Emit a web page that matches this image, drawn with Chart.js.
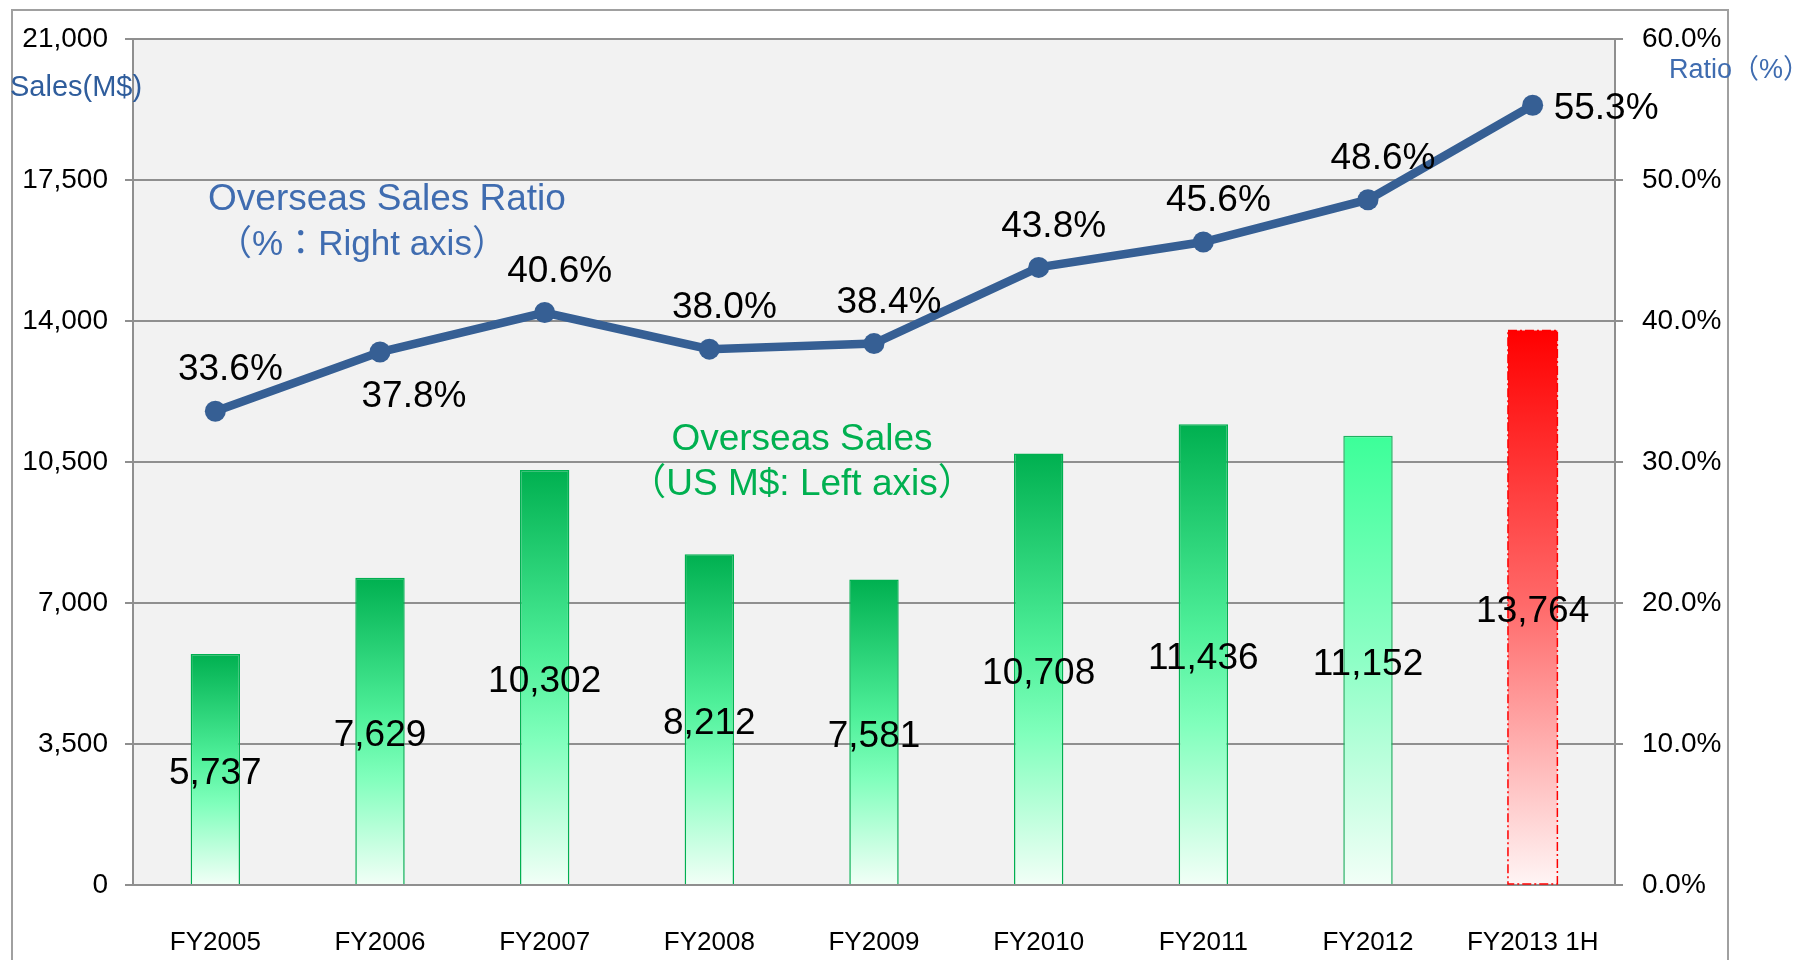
<!DOCTYPE html>
<html lang="en">
<head>
  <meta charset="UTF-8" />
  <title>Overseas Sales and Overseas Sales Ratio</title>
  <script src="https://cdn.jsdelivr.net/npm/chart.js"></script>
  <style>
    html, body { margin: 0; padding: 0; background: #fff; }
    #wrap { width: 1796px; height: 960px; }
  </style>
</head>
<body>
  <div id="wrap"><canvas id="salesChart" width="1796" height="960"></canvas></div>

  <script>
    // data
    const years = ['FY2005', 'FY2006', 'FY2007', 'FY2008', 'FY2009', 'FY2010', 'FY2011', 'FY2012', 'FY2013 1H'];
    const overseasSales = [5737, 7629, 10302, 8212, 7581, 10708, 11436, 11152, 13764];
    const overseasRatio = [33.6, 37.8, 40.6, 38.0, 38.4, 43.8, 45.6, 48.6, 55.3];
    const salesTicks = [0, 3500, 7000, 10500, 14000, 17500, 21000];
    const ratioTicks = [0, 10, 20, 30, 40, 50, 60];

    // which fill each bar uses, and where each ratio label sits
    const barKind = ['green', 'green', 'green', 'green', 'green', 'green', 'green', 'mint', 'red'];
    const ratioLabelSide = ['above', 'below', 'above', 'above', 'above', 'above', 'above', 'above', 'right'];

    const FONT = "'Liberation Sans', Arial, 'Noto Sans CJK JP', sans-serif";
    const GRID = '#8f8f8f';
    const LINE_BLUE = '#365f94';
    const TEXT_BLUE = '#3f6cb0';

    const gradientStops = {
      green: [[0, '#00b050'], [0.45, '#4ff09a'], [0.65, '#80ffbc'], [1, '#f2fff7']],
      mint:  [[0, '#3cff99'], [0.5, '#8effc6'], [1, '#f2fff7']],
      red:   [[0, '#ff0000'], [0.5, '#ff6b6b'], [1, '#fff5f5']]
    };

    function barFill(ctx) {
      const chart = ctx.chart;
      const kind = barKind[ctx.dataIndex] || 'green';
      if (!chart.chartArea || ctx.raw == null) return gradientStops[kind][0][1];
      const y = chart.scales.y;
      const top = y.getPixelForValue(ctx.raw);
      const bottom = y.getPixelForValue(0);
      const g = chart.ctx.createLinearGradient(0, top, 0, bottom);
      gradientStops[kind].forEach(s => g.addColorStop(s[0], s[1]));
      return g;
    }

    const chartDecor = {
      id: 'chartDecor',
      beforeDraw(chart) {
        const { ctx, chartArea: a } = chart;
        ctx.save();
        ctx.fillStyle = '#f2f2f2';
        ctx.fillRect(a.left, a.top, a.right - a.left, a.bottom - a.top);
        // outer frame
        ctx.strokeStyle = '#a0a0a0';
        ctx.lineWidth = 2;
        ctx.strokeRect(12, 10, 1716, 1000);
        ctx.restore();
      },
      afterDatasetsDraw(chart) {
        const ctx = chart.ctx;
        ctx.save();

        // dash-dot outline for the half-year bar
        const bars = chart.getDatasetMeta(1).data;
        bars.forEach((bar, i) => {
          if (barKind[i] !== 'red') return;
          ctx.strokeStyle = '#ff0000';
          ctx.lineWidth = 1.5;
          ctx.setLineDash([9, 3, 2, 3]);
          ctx.strokeRect(bar.x - bar.width / 2, bar.y, bar.width, bar.base - bar.y);
          ctx.setLineDash([]);
        });

        // bar value labels, centred in the bar
        ctx.fillStyle = '#000';
        ctx.font = '37px ' + FONT;
        ctx.textAlign = 'center';
        ctx.textBaseline = 'middle';
        bars.forEach((bar, i) => {
          ctx.fillText(overseasSales[i].toLocaleString('en-US'), bar.x, (bar.y + bar.base) / 2 + 5);
        });

        // ratio labels
        const pts = chart.getDatasetMeta(0).data;
        pts.forEach((p, i) => {
          const txt = overseasRatio[i].toFixed(1) + '%';
          const side = ratioLabelSide[i];
          if (side === 'right') {
            ctx.textAlign = 'left';
            ctx.fillText(txt, p.x + 21, p.y + 4);
          } else if (side === 'below') {
            ctx.textAlign = 'center';
            ctx.fillText(txt, p.x + 34, p.y + 45);
          } else {
            ctx.textAlign = 'center';
            ctx.fillText(txt, p.x + 15, p.y - 41);
          }
        });
        ctx.restore();
      },
      afterDraw(chart) {
        const ctx = chart.ctx;
        ctx.save();
        ctx.textBaseline = 'middle';

        ctx.fillStyle = '#2f5d9c';
        ctx.font = '29px ' + FONT;
        ctx.textAlign = 'left';
        ctx.fillText('Sales(M$)', 10, 88);

        ctx.fillStyle = TEXT_BLUE;
        ctx.font = '27px ' + FONT;
        ctx.fillText('Ratio（%）', 1669, 71);

        ctx.textAlign = 'center';
        ctx.font = '37px ' + FONT;
        ctx.fillText('Overseas Sales Ratio', 387, 200);
        ctx.font = '35px ' + FONT;
        ctx.fillText('（%：Right axis）', 362, 245);

        ctx.fillStyle = '#00b050';
        ctx.font = '37px ' + FONT;
        ctx.fillText('Overseas Sales', 802, 440);
        ctx.fillText('（US M$: Left axis）', 802, 485);
        ctx.restore();
      }
    };

    new Chart(document.getElementById('salesChart'), {
      data: {
        labels: years,
        datasets: [
          {
            type: 'line',
            label: 'Overseas Sales Ratio',
            data: overseasRatio,
            yAxisID: 'y1',
            borderColor: LINE_BLUE,
            backgroundColor: LINE_BLUE,
            borderWidth: 8.5,
            pointRadius: 10.5,
            pointBorderWidth: 0,
            pointBackgroundColor: LINE_BLUE,
            tension: 0,
            order: 0
          },
          {
            type: 'bar',
            label: 'Overseas Sales',
            data: overseasSales,
            yAxisID: 'y',
            backgroundColor: barFill,
            borderColor: barKind.map(k => k === 'red' ? 'rgba(0,0,0,0)' : (k === 'mint' ? '#1fb060' : '#00b050')),
            borderWidth: barKind.map(k => k === 'red' ? 0 : 1.5),
            barPercentage: 0.3,
            categoryPercentage: 1,
            order: 1
          }
        ]
      },
      options: {
        responsive: false,
        animation: false,
        layout: { padding: { top: 39, left: 0, right: 0, bottom: 0 } },
        plugins: {
          legend: { display: false },
          tooltip: { enabled: false }
        },
        scales: {
          x: {
            grid: { display: false, drawTicks: false },
            border: { display: false },
            ticks: {
              color: '#000',
              font: { family: FONT, size: 26 },
              padding: 42,
              maxRotation: 0,
              autoSkip: false
            },
            afterFit: s => { s.height = 75; }
          },
          y: {
            position: 'left',
            min: 0,
            max: 21000,
            afterBuildTicks: s => { s.ticks = salesTicks.map(v => ({ value: v })); },
            grid: { color: GRID, lineWidth: 2, tickLength: 8 },
            border: { color: GRID, width: 2 },
            ticks: {
              color: '#000',
              font: { family: FONT, size: 28 },
              padding: 17,
              callback: v => v.toLocaleString('en-US')
            },
            afterFit: s => { s.width = 133; }
          },
          y1: {
            position: 'right',
            min: 0,
            max: 60,
            afterBuildTicks: s => { s.ticks = ratioTicks.map(v => ({ value: v })); },
            grid: { drawOnChartArea: false, color: GRID, lineWidth: 2, tickLength: 8 },
            border: { color: GRID, width: 2 },
            ticks: {
              color: '#000',
              font: { family: FONT, size: 28 },
              padding: 19,
              callback: v => v.toFixed(1) + '%'
            },
            afterFit: s => { s.width = 181; }
          }
        }
      },
      plugins: [chartDecor]
    });
  </script>
</body>
</html>
